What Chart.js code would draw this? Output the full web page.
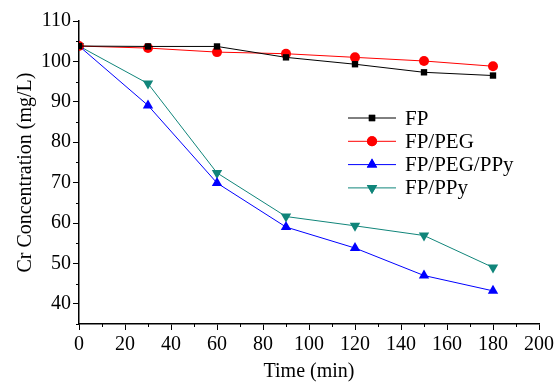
<!DOCTYPE html>
<html>
<head>
<meta charset="utf-8">
<script src="https://cdn.jsdelivr.net/npm/chart.js@4"></script>
<style>
  body { margin: 0; background: #fff; }
  #wrap { width: 557px; height: 383px; }
</style>
</head>
<body>
<div id="wrap"><canvas id="myChart" width="557" height="383"></canvas></div>
<script>
// data
const times = [0, 30, 60, 90, 120, 150, 180];
const fp = [103.8, 103.7, 103.7, 101.0, 99.3, 97.3, 96.5];
const fpPeg = [103.8, 103.3, 102.3, 101.9, 101.0, 100.1, 98.8];
const fpPegPpy = [103.8, 89.1, 69.9, 59.0, 53.8, 47.0, 43.2];
const fpPpy = [103.8, 94.5, 72.4, 61.6, 59.3, 56.9, 49.0];
const xTicks = [0, 20, 40, 60, 80, 100, 120, 140, 160, 180, 200];
const yTicks = [40, 50, 60, 70, 80, 90, 100, 110];

const serif = "'Liberation Serif', 'Times New Roman', serif";

function pts(vals) {
    return times.map((t, i) => ({ x: t, y: vals[i] }));
}

const series = [
    { label: 'FP', data: fp, color: '#000000', style: 'rect', radius: 4.5, rot: 0 },
    { label: 'FP/PEG', data: fpPeg, color: '#ff0000', style: 'circle', radius: 5, rot: 0 },
    { label: 'FP/PEG/PPy', data: fpPegPpy, color: '#0000ff', style: 'triangle', radius: 6, rot: 0 },
    { label: 'FP/PPy', data: fpPpy, color: '#10857a', style: 'triangle', radius: 6, rot: 180 },
];

// minor ticks + custom legend
const extras = {
    id: 'extras',
    afterDraw(chart) {
        const ctx = chart.ctx;
        const xs = chart.scales.x, ys = chart.scales.y;
        ctx.save();
        ctx.strokeStyle = '#000';
        ctx.lineWidth = 1;
        ctx.beginPath();
        for (let v = 10; v < 200; v += 20) {
            const px = Math.round(xs.getPixelForValue(v)) + 0.5;
            ctx.moveTo(px, xs.top);
            ctx.lineTo(px, xs.top + 3);
        }
        for (let v = 35; v < 110; v += 10) {
            const py = Math.round(ys.getPixelForValue(v)) + 0.5;
            ctx.moveTo(ys.right, py);
            ctx.lineTo(ys.right - 3, py);
        }
        ctx.stroke();

        // legend
        const lx = 348, ly = 118, step = 23.3;
        series.forEach((s, i) => {
            const y = ly + i * step;
            ctx.strokeStyle = s.color;
            ctx.lineWidth = 1;
            ctx.beginPath();
            ctx.moveTo(lx, y);
            ctx.lineTo(lx + 48, y);
            ctx.stroke();
            ctx.fillStyle = s.color;
            Chart.helpers.drawPoint(ctx, {
                pointStyle: s.style, radius: s.radius, rotation: s.rot, borderWidth: 0
            }, lx + 24, y);
            ctx.fill();
            ctx.fillStyle = '#000';
            ctx.font = '21px ' + serif;
            ctx.textBaseline = 'middle';
            ctx.fillText(s.label, lx + 57, y + 1);
        });
        ctx.restore();
    }
};

const ctx1 = document.getElementById('myChart').getContext('2d');
const myChart = new Chart(ctx1, {
    type: 'line',
    data: {
        datasets: series.map(s => ({
            label: s.label,
            data: pts(s.data),
            borderColor: s.color,
            backgroundColor: s.color,
            borderWidth: 1,
            pointStyle: s.style,
            pointRadius: s.radius,
            pointRotation: s.rot,
            pointBorderWidth: 0,
            tension: 0,
        }))
    },
    options: {
        responsive: false,
        animation: false,
        layout: { padding: { top: 21, right: 18, left: 0, bottom: 0 } },
        plugins: { legend: { display: false }, tooltip: { enabled: false } },
        scales: {
            x: {
                type: 'linear',
                min: 0, max: 200,
                afterBuildTicks: s => { s.ticks = xTicks.map(v => ({ value: v })); },
                afterFit: s => { s.height = 59; },
                grid: { drawOnChartArea: false, tickLength: 6, color: '#000', tickColor: '#000' },
                border: { color: '#000', width: 1.5 },
                ticks: { color: '#000', font: { family: serif, size: 20 }, padding: 3, maxRotation: 0 },
                title: { display: true, text: 'Time (min)', color: '#000', font: { family: serif, size: 20 }, padding: { top: 8, bottom: -1 } }
            },
            y: {
                min: 35, max: 110,
                afterBuildTicks: s => { s.ticks = yTicks.map(v => ({ value: v })); },
                afterFit: s => { s.width = 79; },
                grid: { drawOnChartArea: false, tickLength: 6, color: '#000', tickColor: '#000' },
                border: { color: '#000', width: 1.5 },
                ticks: { color: '#000', font: { family: serif, size: 20 }, padding: 2 },
                title: { display: true, text: 'Cr Concentration (mg/L)', color: '#000', font: { family: serif, size: 20 }, padding: { top: 14, bottom: 0 } }
            }
        }
    },
    plugins: [extras]
});
</script>
</body>
</html>
